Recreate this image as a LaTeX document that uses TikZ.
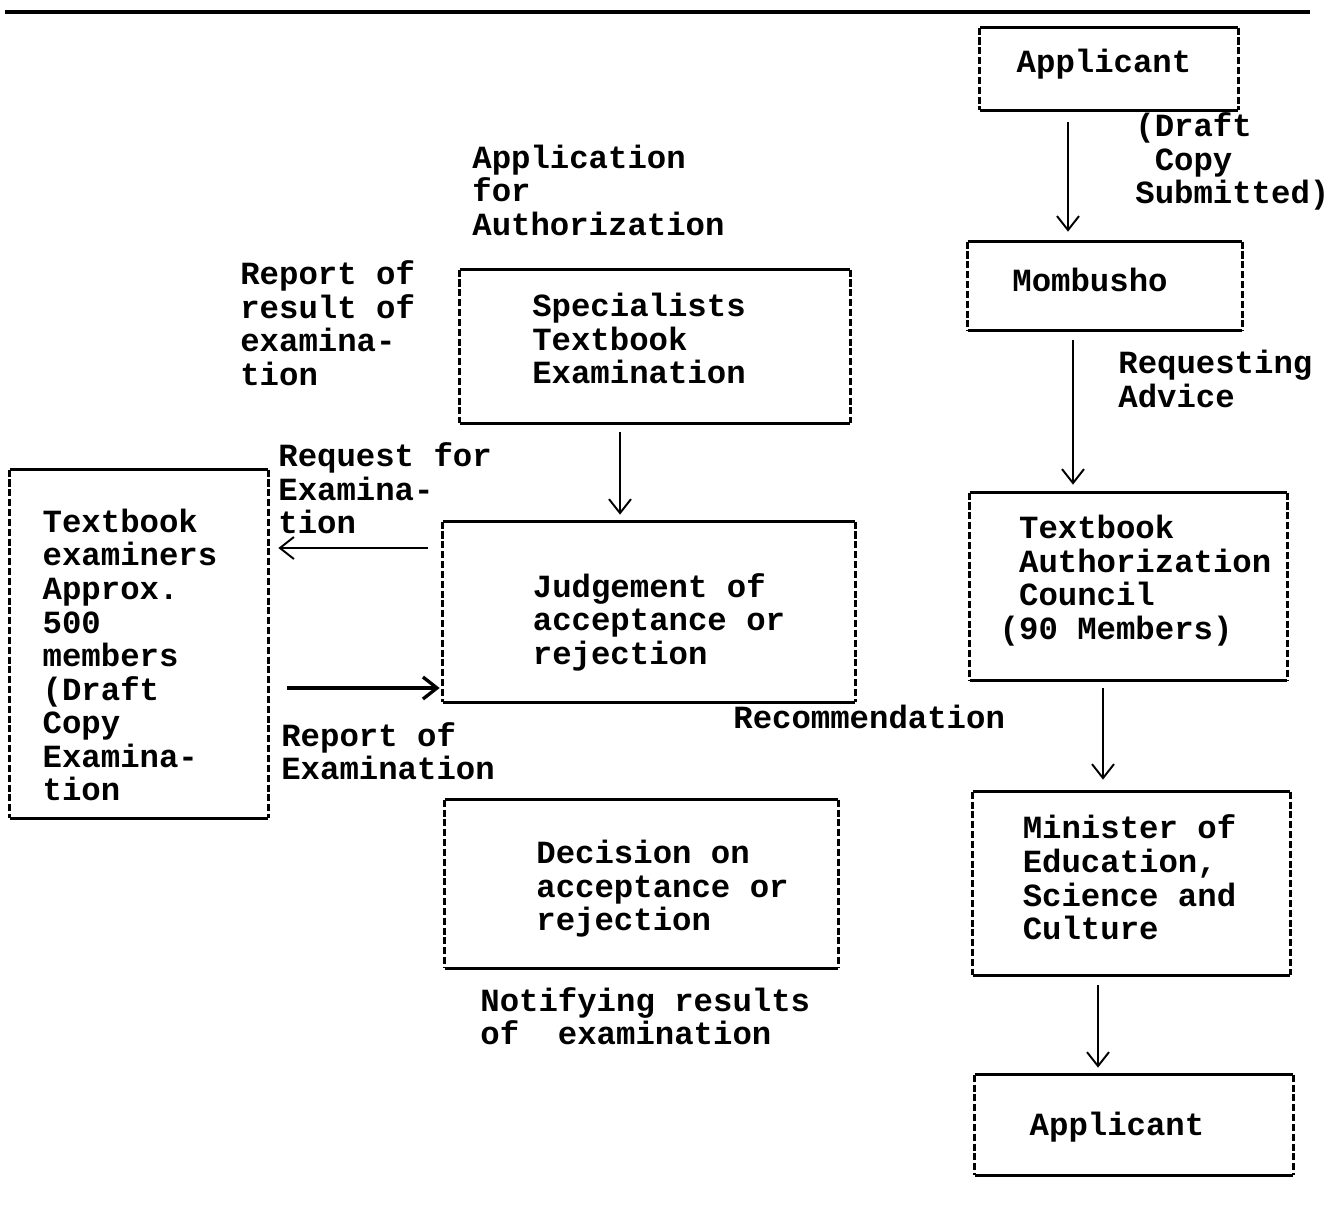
\documentclass[tikz,border=0pt]{standalone}
\usepackage{fontspec}
\setmonofont{Liberation Mono}
\usepackage{tikz}
\usetikzlibrary{arrows.meta,calc}
\newcommand{\twfont}{\ttfamily\bfseries\fontsize{18.4}{19.1}\selectfont}
\tikzset{
  >={Straight Barb[length=2.8mm,width=4.4mm]},
  boxframe/.style={draw=none,inner sep=0pt},
  boxtxt/.style={font=\twfont,align=left,inner sep=0pt},
  hedge/.style={line width=1.9pt},
  vedge/.style={line width=2pt,dash pattern=on 4pt off 1.6pt},
  lbl/.style={font=\twfont,align=left,anchor=west,inner sep=0pt},
  ptr/.style={->,line width=1.1pt},
  ptrb/.style={->,line width=1.9pt},
  toprule/.style={line width=2pt},
}
\newcommand{\tbox}[6]{%
  \node[boxframe,minimum width=#3*0.02cm,minimum height=#4*0.02cm] (#1) at (#2) {};
  \node[boxtxt] (#1-t) at ($(#1)+(#5)$) {#6};
  \draw[hedge] (#1.north west) -- (#1.north east) (#1.south west) -- (#1.south east);
  \draw[vedge] (#1.north west) -- (#1.south west) (#1.north east) -- (#1.south east);}
\begin{document}
\begin{tikzpicture}[x=0.02cm,y=-0.02cm]
  \useasboundingbox (0,0) rectangle (1330,1208);
  \coordinate (rl) at (5,12);
  \coordinate (rr) at (1310,12);
  \draw[toprule] (rl) -- (rr);
  \tbox{app1}{1109,69}{258}{82}{-5,-5}{Applicant}
  \tbox{mom}{1105,286}{274}{88}{-15,-6}{Mombusho}
  \tbox{spec}{655,346.5}{390}{153}{-16,-8}{Specialists\\Textbook\\Examination}
  \tbox{judge}{649,612}{412}{180}{10,10}{Judgement of\\acceptance or\\rejection}
  \tbox{exam}{139,644}{258}{348}{-9,11}{Textbook\\examiners\\Approx.\\500\\members\\(Draft\\Copy\\Examina-\\tion}
  \tbox{dec}{641.5,884}{393}{168}{21,5}{Decision on\\acceptance or\\rejection}
  \tbox{council}{1128.5,586.5}{317}{187}{7,-6}{\ Textbook\\\ Authorization\\\ Council\\(90 Members)}
  \tbox{mini}{1131.5,883.5}{317}{183}{-2,-6}{Minister of\\Education,\\Science and\\Culture}
  \tbox{app2}{1134,1125}{318}{100}{-17,2}{Applicant}
  \node[lbl] (draftl) at (1135,161.5) {(Draft\\\ Copy\\Submitted)};
  \node[lbl] (appl) at (472,190) {Application\\for\\Authorization};
  \node[lbl] (resl) at (240,323) {Report of\\result of\\examina-\\tion};
  \node[lbl] (reql) at (278,488.5) {Request for\\Examina-\\tion};
  \node[lbl] (repl) at (281,751) {Report of\\Examination};
  \node[lbl] (recl) at (733,717) {Recommendation};
  \node[lbl] (advl) at (1118,379) {Requesting\\Advice};
  \node[lbl] (notl) at (480,1016) {Notifying results\\of~~examination};
  \draw[ptr] ($(app1.south)+(-41,12)$) -- ($(mom.north)+(-37,-10)$);
  \draw[ptr] ($(mom.south)+(-32,10)$) -- ($(council.north)+(-55.5,-8)$);
  \draw[ptr] ($(council.south)+(-25.5,8)$) -- ($(mini.north)+(-28.5,-12)$);
  \draw[ptr] ($(mini.south)+(-33.5,10)$) -- ($(app2.north)+(-36,-7)$);
  \draw[ptr] ($(spec.south)+(-35,9)$) -- ($(judge.north)+(-29,-7)$);
  \draw[ptr] ($(judge.west)+(-15,-64)$) -- ($(exam.east)+(10,-96)$);
  \draw[ptrb] ($(exam.east)+(19,44)$) -- ($(judge.west)+(-3,76)$);
\end{tikzpicture}
\end{document}
